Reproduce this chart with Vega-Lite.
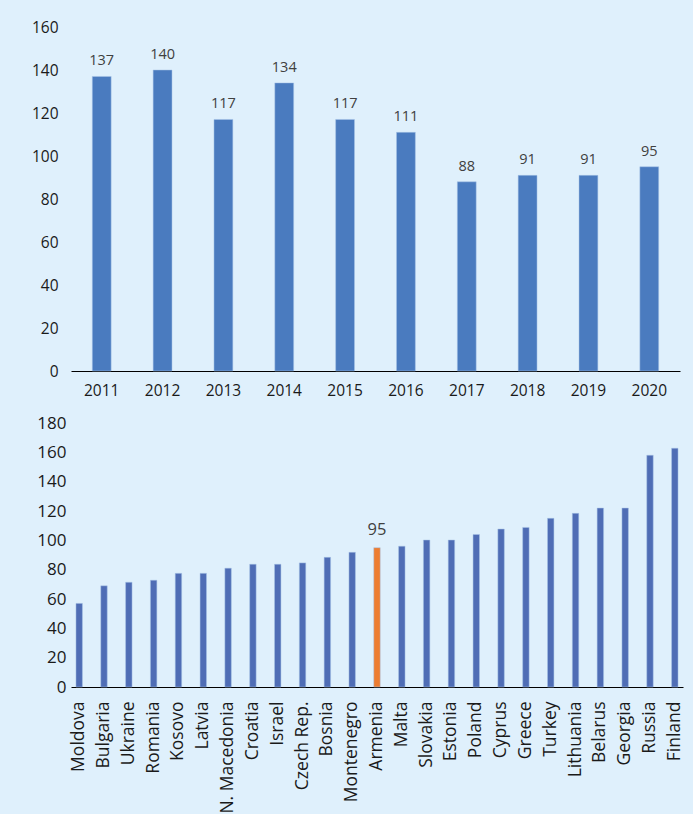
{
  "$schema": "https://vega.github.io/schema/vega-lite/v6.json",
  "background": "#dff0fc",
  "padding": {"left": 31, "top": 20, "right": 10, "bottom": 0},
  "spacing": 15,
  "align": "none",
  "config": {
    "view": {"stroke": null},
    "font": "Open Sans",
    "axis": {"labelFont": "Open Sans", "labelColor": "#1a1a1a", "grid": false, "ticks": false, "title": null}
  },
  "vconcat": [
    {
      "width": 609,
      "height": 344,
      "data": {"values": [
        {"year": "2011", "value": 137},
        {"year": "2012", "value": 140},
        {"year": "2013", "value": 117},
        {"year": "2014", "value": 134},
        {"year": "2015", "value": 117},
        {"year": "2016", "value": 111},
        {"year": "2017", "value": 88},
        {"year": "2018", "value": 91},
        {"year": "2019", "value": 91},
        {"year": "2020", "value": 95}
      ]},
      "encoding": {
        "x": {"field": "year", "type": "nominal", "sort": null,
              "scale": {"paddingInner": 0.69, "paddingOuter": 0.35},
              "axis": {"labelAngle": 0, "labelFontSize": 15.5, "labelPadding": 12, "domainColor": "#000000", "domainWidth": 1.2}},
        "y": {"field": "value", "type": "quantitative",
              "scale": {"domain": [0, 160]},
              "axis": {"values": [0, 20, 40, 60, 80, 100, 120, 140, 160], "domain": false, "labelFontSize": 15.5, "labelPadding": 13}}
      },
      "layer": [
        {"mark": {"type": "bar", "color": "#4a7bbf", "stroke": "#a9c4e6", "strokeWidth": 0.5}},
        {"mark": {"type": "text", "baseline": "alphabetic", "dy": -11, "fontSize": 14.5, "color": "#404040"},
         "encoding": {"text": {"field": "value", "type": "quantitative"}}}
      ]
    },
    {
      "width": 612,
      "height": 264,
      "data": {"values": [
        {"country": "Moldova", "value": 57, "hl": "n"},
        {"country": "Bulgaria", "value": 69, "hl": "n"},
        {"country": "Ukraine", "value": 71.4, "hl": "n"},
        {"country": "Romania", "value": 72.8, "hl": "n"},
        {"country": "Kosovo", "value": 77.5, "hl": "n"},
        {"country": "Latvia", "value": 77.5, "hl": "n"},
        {"country": "N. Macedonia", "value": 81, "hl": "n"},
        {"country": "Croatia", "value": 83.7, "hl": "n"},
        {"country": "Israel", "value": 83.7, "hl": "n"},
        {"country": "Czech Rep.", "value": 84.6, "hl": "n"},
        {"country": "Bosnia", "value": 88.4, "hl": "n"},
        {"country": "Montenegro", "value": 91.8, "hl": "n"},
        {"country": "Armenia", "value": 95, "hl": "y"},
        {"country": "Malta", "value": 96, "hl": "n"},
        {"country": "Slovakia", "value": 100.2, "hl": "n"},
        {"country": "Estonia", "value": 100.2, "hl": "n"},
        {"country": "Poland", "value": 104, "hl": "n"},
        {"country": "Cyprus", "value": 107.7, "hl": "n"},
        {"country": "Greece", "value": 108.8, "hl": "n"},
        {"country": "Turkey", "value": 115, "hl": "n"},
        {"country": "Lithuania", "value": 118.4, "hl": "n"},
        {"country": "Belarus", "value": 122, "hl": "n"},
        {"country": "Georgia", "value": 122, "hl": "n"},
        {"country": "Russia", "value": 158, "hl": "n"},
        {"country": "Finland", "value": 162.8, "hl": "n"}
      ]},
      "encoding": {
        "x": {"field": "country", "type": "nominal", "sort": null,
              "scale": {"paddingInner": 0.74, "paddingOuter": 0.2},
              "axis": {"labelAngle": 270, "labelAlign": "right", "labelBaseline": "middle", "labelFontSize": 17.5, "labelPadding": 14, "labelColor": "#1a1a1a", "domainColor": "#000000", "domainWidth": 1.2}},
        "y": {"field": "value", "type": "quantitative",
              "scale": {"domain": [0, 180]},
              "axis": {"values": [0, 20, 40, 60, 80, 100, 120, 140, 160, 180], "domain": false, "labelFontSize": 17, "labelPadding": 5}}
      },
      "layer": [
        {"mark": {"type": "bar", "stroke": "#a9c4e6", "strokeWidth": 0.5},
         "encoding": {"color": {"field": "hl", "type": "nominal", "scale": {"domain": ["n", "y"], "range": ["#4f6db5", "#ed7d31"]}, "legend": null}}},
        {"transform": [{"filter": "datum.hl == 'y'"}],
         "mark": {"type": "text", "baseline": "alphabetic", "dy": -13, "fontSize": 16.5, "color": "#404040"},
         "encoding": {"text": {"field": "value", "type": "quantitative"}}}
      ]
    }
  ]
}
